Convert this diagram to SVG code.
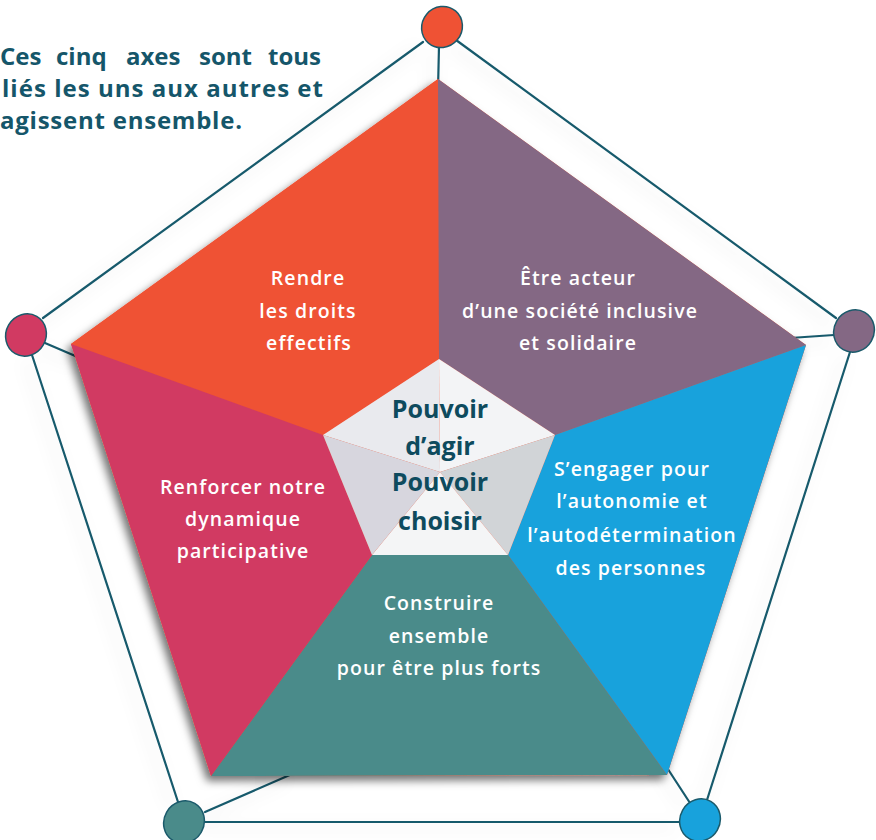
<svg xmlns="http://www.w3.org/2000/svg" width="876" height="840" viewBox="0 0 876 840">
<defs>
<filter id="shadow" x="-10%" y="-10%" width="120%" height="120%">
<feDropShadow dx="-4" dy="5" stdDeviation="4" flood-color="#000" flood-opacity="0.55"/>
</filter>
<filter id="glow" x="-10%" y="-10%" width="120%" height="120%">
<feDropShadow dx="-6" dy="6" stdDeviation="8" flood-color="#000" flood-opacity="0.12"/>
</filter>
<style>
.ln{stroke:#195a6c;stroke-width:2.2;fill:none;stroke-linecap:round}
.dot{stroke:#1b5a6b;stroke-width:1.5}
.lbl{font-family:"Open Sans","Liberation Sans",sans-serif;font-weight:600;font-size:19.5px;fill:#ffffff;text-anchor:middle;letter-spacing:1.1px}
.ctr{font-family:"Open Sans","Liberation Sans",sans-serif;font-weight:700;font-size:25px;fill:#0e4b5e;text-anchor:middle}
.title{font-family:"Open Sans","Liberation Sans",sans-serif;font-weight:700;font-size:24px;fill:#15566a}
</style>
</defs>
<rect width="876" height="840" fill="#ffffff"/>

<g id="title">
<text class="title" y="65"><tspan x="0">Ces</tspan><tspan x="56">cinq</tspan><tspan x="126">axes</tspan><tspan x="199">sont</tspan><tspan x="268">tous</tspan></text>
<text class="title" x="2" y="97" textLength="321" lengthAdjust="spacing">liés les uns aux autres et</text>
<text class="title" x="0" y="129" textLength="242" lengthAdjust="spacing">agissent ensemble.</text>
</g>

<g id="connectors" filter="url(#glow)">
<line class="ln" x1="423" y1="42" x2="43" y2="318"/>
<line class="ln" x1="456" y1="40" x2="836" y2="318"/>
<line class="ln" x1="850" y1="352" x2="707" y2="800"/>
<line class="ln" x1="205" y1="822" x2="680" y2="822"/>
<line class="ln" x1="32" y1="355" x2="178" y2="802"/>
<line class="ln" x1="439" y1="46" x2="438" y2="90"/>
<line class="ln" x1="834" y1="335" x2="790" y2="338"/>
<line class="ln" x1="45" y1="343" x2="80" y2="358"/>
<line class="ln" x1="205" y1="812" x2="292" y2="774"/>
<line class="ln" x1="690" y1="803" x2="662" y2="760"/>
</g>

<g id="pentagon" filter="url(#shadow)">
<polygon points="438,79 806,345 667,775 211,776 71,344" fill="#ef5234"/>
</g>

<g id="axe-droits">
<polygon points="438,79 439,359 323,435 71,344" fill="#ef5234"/>
<text class="lbl" x="308" y="285">Rendre</text>
<text class="lbl" x="308" y="318">les droits</text>
<text class="lbl" x="309" y="350">effectifs</text>
</g>

<g id="axe-societe">
<polygon points="438,79 806,345 555,435 439,359" fill="#846884"/>
<text class="lbl" x="578" y="285">Être acteur</text>
<text class="lbl" x="580" y="318">d’une société inclusive</text>
<text class="lbl" x="578" y="350">et solidaire</text>
</g>

<g id="axe-autonomie">
<polygon points="806,345 667,775 508,555 555,435" fill="#18a2dc"/>
<text class="lbl" x="632" y="476">S’engager pour</text>
<text class="lbl" x="632" y="508">l’autonomie et</text>
<text class="lbl" x="632" y="542">l’autodétermination</text>
<text class="lbl" x="631" y="575">des personnes</text>
</g>

<g id="axe-ensemble">
<polygon points="667,775 211,776 372,555 508,555" fill="#4a8b8a"/>
<text class="lbl" x="439" y="610">Construire</text>
<text class="lbl" x="439" y="643">ensemble</text>
<text class="lbl" x="439" y="675">pour être plus forts</text>
</g>

<g id="axe-participative">
<polygon points="211,776 71,344 323,435 372,555" fill="#d13a62"/>
<text class="lbl" x="243" y="494">Renforcer notre</text>
<text class="lbl" x="243" y="526">dynamique</text>
<text class="lbl" x="243" y="558">participative</text>
</g>

<g id="centre">
<polygon points="440,472 439,359 323,435" fill="#e9eaee"/>
<polygon points="440,472 439,359 555,435" fill="#f3f4f6"/>
<polygon points="440,472 555,435 508,555" fill="#d1d4d7"/>
<polygon points="440,472 508,555 372,555" fill="#f4f5f6"/>
<polygon points="440,472 372,555 323,435" fill="#d7d6de"/>
<text class="ctr" x="440" y="418">Pouvoir</text>
<text class="ctr" x="440" y="455">d’agir</text>
<text class="ctr" x="440" y="491">Pouvoir</text>
<text class="ctr" x="440" y="530">choisir</text>
</g>

<g id="pastille-haut"><ellipse class="dot" cx="442" cy="27" rx="20" ry="21" fill="#ef5234" transform="rotate(40 442 27)"/></g>
<g id="pastille-droite"><ellipse class="dot" cx="854" cy="331" rx="20" ry="21.5" fill="#846884" transform="rotate(30 854 331)"/></g>
<g id="pastille-gauche"><ellipse class="dot" cx="26" cy="335" rx="20" ry="21.5" fill="#d13a62" transform="rotate(30 26 335)"/></g>
<g id="pastille-bas-gauche"><ellipse class="dot" cx="184" cy="822" rx="20" ry="21.5" fill="#4a8b8a" transform="rotate(30 184 822)"/></g>
<g id="pastille-bas-droite"><ellipse class="dot" cx="700" cy="820" rx="20" ry="21.5" fill="#18a2dc" transform="rotate(30 700 820)"/></g>
</svg>
